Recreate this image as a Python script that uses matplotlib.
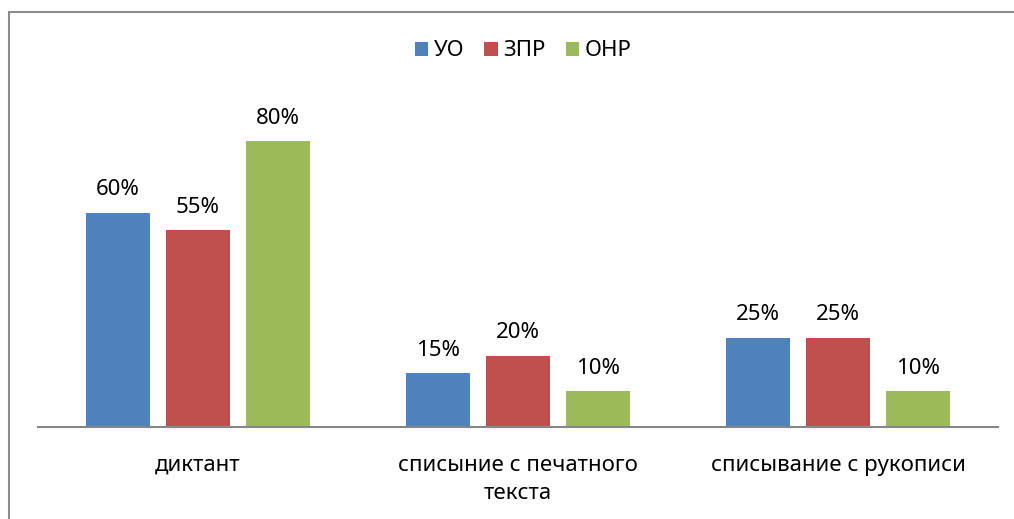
import matplotlib.pyplot as plt
import numpy as np
from matplotlib.patches import Rectangle

categories = ['диктант', 'списыние с печатного\nтекста', 'списывание с рукописи']
series = ['УО', 'ЗПР', 'ОНР']
uo = [60, 15, 25]
zpr = [55, 20, 25]
onr = [80, 10, 10]
colors = ['#4f81bd', '#c0504d', '#9bbb59']

plt.rcParams['font.family'] = ['Noto Sans', 'DejaVu Sans']

fig = plt.figure(figsize=(10.14, 5.19), dpi=100)
ax = fig.add_axes([38 / 1014, 92 / 519, 960 / 1014, 357.5 / 519])

# outer chart frame (right and bottom edges are cut off in the original)
fig.patches.append(Rectangle((9 / 1014, -0.1), 1.2, 0.1 + 507 / 519, transform=fig.transFigure,
                             fill=False, edgecolor='#8c8c8c', linewidth=1.5))

x = np.arange(len(categories))
offsets = [-0.25, 0, 0.25]
for vals, name, col, off in zip([uo, zpr, onr], series, colors, offsets):
    bars = ax.bar(x + off, vals, width=0.197, color=col, label=name)
    for b, v in zip(bars, vals):
        ax.annotate('%d%%' % v, (b.get_x() + b.get_width() / 2, v), xytext=(0, 9),
                    textcoords='offset points', ha='center', va='bottom', fontsize=16)

ax.set_xlim(-0.5, 2.5)
ax.set_ylim(0, 100)
ax.set_yticks([])
ax.set_xticks(x)
ax.set_xticklabels(categories, fontsize=16, linespacing=1.45)
ax.tick_params(axis='x', length=0, pad=20)
for s in ['top', 'right', 'left']:
    ax.spines[s].set_visible(False)
ax.spines['bottom'].set_color('#868686')
ax.spines['bottom'].set_linewidth(1.5)

fig.legend(loc='center', bbox_to_anchor=(523 / 1014, 1 - 51 / 519), ncol=3, frameon=False,
           fontsize=16, handlelength=0.6, handleheight=0.6, handletextpad=0.25, columnspacing=0.9)

fig.savefig('out.png', dpi=100)
